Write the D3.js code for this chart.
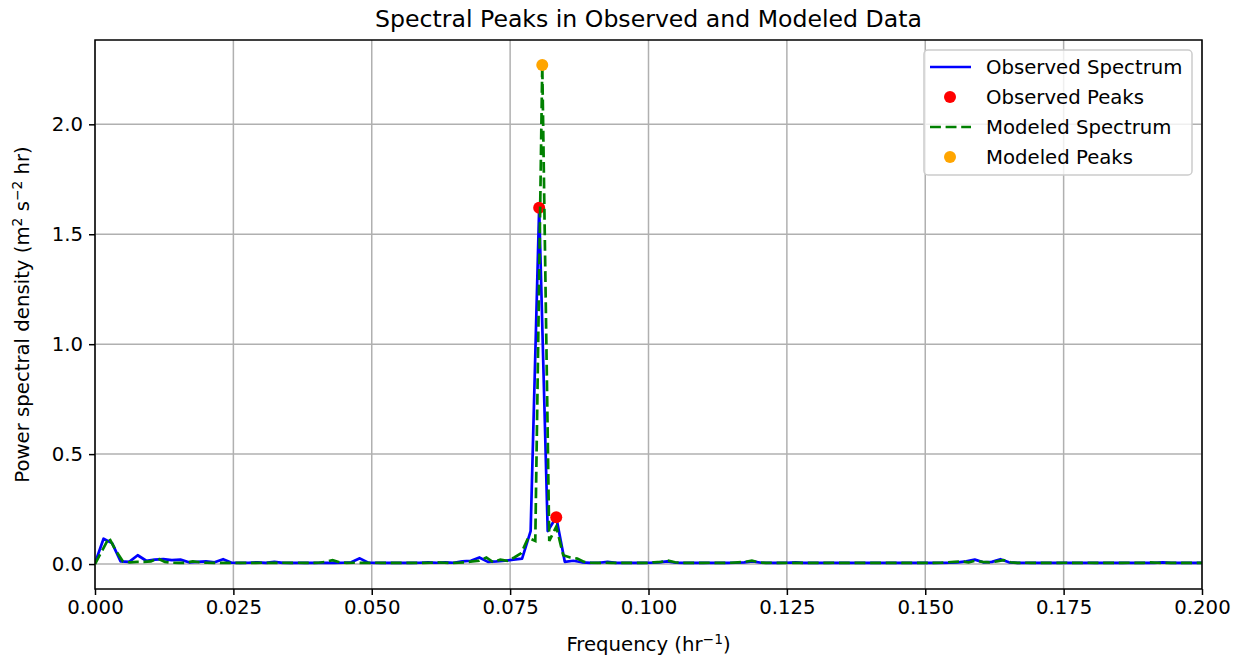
<!DOCTYPE html>
<html>
<head>
<meta charset="utf-8">
<script src="https://cdn.jsdelivr.net/npm/d3@7"></script>
<style>
	body { margin: 0; background: #fff; }
	text { font-family: "DejaVu Sans", sans-serif; fill: #000; }
</style>
</head>
<body>
<svg id="chart"></svg>
<script>
// observed spectrum, one value per frequency bin (bin width 1/648 hr^-1)
var obsStep = 1 / 648;
var observedPsd = [
	0.005, 0.115, 0.095, 0.012, 0.010, 0.040, 0.015, 0.020, 0.022, 0.018,
	0.020, 0.008, 0.010, 0.012, 0.008, 0.022, 0.006, 0.005, 0.006, 0.008,
	0.005, 0.010, 0.005, 0.006, 0.005, 0.005, 0.006, 0.005, 0.005, 0.006,
	0.008, 0.026, 0.006, 0.005, 0.006, 0.005, 0.006, 0.005, 0.006, 0.008,
	0.006, 0.008, 0.006, 0.012, 0.015, 0.030, 0.010, 0.012, 0.015, 0.020,
	0.025, 0.150, 1.620, 0.150, 0.213, 0.010, 0.015, 0.008, 0.005, 0.006,
	0.010, 0.005, 0.006, 0.005, 0.005, 0.006, 0.008, 0.012, 0.006, 0.005,
	0.006, 0.005, 0.005, 0.006, 0.005, 0.006, 0.008, 0.012, 0.006, 0.005,
	0.005, 0.006, 0.008, 0.005, 0.005, 0.006, 0.005, 0.005, 0.006, 0.005,
	0.005, 0.006, 0.005, 0.005, 0.006, 0.005, 0.005, 0.006, 0.005, 0.005,
	0.006, 0.008, 0.012, 0.020, 0.008, 0.010, 0.022, 0.008, 0.005, 0.006,
	0.005, 0.005, 0.006, 0.005, 0.005, 0.006, 0.005, 0.005, 0.006, 0.005,
	0.005, 0.006, 0.005, 0.006, 0.005, 0.008, 0.005, 0.005, 0.006, 0.005,
	0.005
];
var observedPeakBins = [52, 54];

// modeled spectrum (bin width 1/792 hr^-1)
var modStep = 1 / 792;
var modeledPsd = [
	0.000, 0.060, 0.120, 0.060, 0.012, 0.008, 0.010, 0.010, 0.012, 0.025,
	0.010, 0.006, 0.005, 0.006, 0.012, 0.008, 0.006, 0.005, 0.005, 0.006,
	0.005, 0.006, 0.005, 0.005, 0.006, 0.005, 0.005, 0.006, 0.005, 0.006,
	0.005, 0.005, 0.006, 0.010, 0.018, 0.008, 0.005, 0.006, 0.005, 0.005,
	0.006, 0.005, 0.006, 0.005, 0.005, 0.006, 0.005, 0.005, 0.006, 0.008,
	0.006, 0.005, 0.006, 0.008, 0.012, 0.015, 0.030, 0.008, 0.020, 0.015,
	0.030, 0.050, 0.120, 0.105, 2.270, 0.105, 0.170, 0.040, 0.030, 0.025,
	0.010, 0.006, 0.005, 0.006, 0.005, 0.005, 0.006, 0.005, 0.006, 0.005,
	0.008, 0.010, 0.015, 0.008, 0.005, 0.006, 0.005, 0.005, 0.006, 0.005,
	0.005, 0.006, 0.008, 0.010, 0.015, 0.008, 0.005, 0.006, 0.005, 0.005,
	0.006, 0.005, 0.005, 0.006, 0.005, 0.005, 0.006, 0.005, 0.005, 0.006,
	0.005, 0.005, 0.006, 0.005, 0.005, 0.006, 0.005, 0.005, 0.006, 0.005,
	0.005, 0.006, 0.008, 0.010, 0.012, 0.008, 0.015, 0.010, 0.008, 0.012,
	0.018, 0.008, 0.005, 0.006, 0.005, 0.005, 0.006, 0.005, 0.005, 0.006,
	0.005, 0.005, 0.006, 0.005, 0.005, 0.006, 0.005, 0.005, 0.006, 0.005,
	0.005, 0.008, 0.006, 0.005, 0.005, 0.006, 0.005, 0.005, 0.006, 0.005
];
var modeledPeakBins = [64];

var xTicks = [0, 0.025, 0.05, 0.075, 0.1, 0.125, 0.15, 0.175, 0.2];
var yTicks = [0, 0.5, 1.0, 1.5, 2.0];
var legendLabels = ["Observed Spectrum", "Observed Peaks", "Modeled Spectrum", "Modeled Peaks"];

var observed = observedPsd.map(function(v, i) { return {f: i * obsStep, p: v}; });
var modeled = modeledPsd.map(function(v, i) { return {f: i * modStep, p: v}; });

var svgWidth = 1241, svgHeight = 659;
var margin = {top: 40, right: 39, bottom: 70, left: 95};
var width = svgWidth - margin.left - margin.right;
var height = svgHeight - margin.top - margin.bottom;
var fs = 19.7;

var svg = d3.select("#chart")
	.attr("width", svgWidth)
	.attr("height", svgHeight);

var x = d3.scaleLinear().domain([0, 0.2]).range([0, width]);

var all = observedPsd.concat(modeledPsd);
var yMin = d3.min(all), yMax = d3.max(all);
var pad = (yMax - yMin) * 0.05;
var y = d3.scaleLinear().domain([yMin - pad, yMax + pad]).range([height, 0]);

var g = svg.append("g").attr("transform", "translate(" + margin.left + "," + margin.top + ")");

svg.append("defs").append("clipPath").attr("id", "clip")
	.append("rect").attr("width", width).attr("height", height);

// grid
g.append("g").selectAll("line").data(xTicks).enter().append("line")
	.attr("x1", d => x(d)).attr("x2", d => x(d))
	.attr("y1", 0).attr("y2", height)
	.attr("stroke", "#b0b0b0").attr("stroke-width", 1.5);
g.append("g").selectAll("line").data(yTicks).enter().append("line")
	.attr("x1", 0).attr("x2", width)
	.attr("y1", d => y(d)).attr("y2", d => y(d))
	.attr("stroke", "#b0b0b0").attr("stroke-width", 1.5);

var line = d3.line().x(d => x(d.f)).y(d => y(d.p));
var plot = g.append("g").attr("clip-path", "url(#clip)");

plot.append("path").datum(observed)
	.attr("d", line)
	.attr("fill", "none")
	.attr("stroke", "blue")
	.attr("stroke-width", 2.7)
	.attr("stroke-linejoin", "round");

plot.selectAll(".obsPeak").data(observedPeakBins.map(i => observed[i])).enter().append("circle")
	.attr("class", "obsPeak")
	.attr("cx", d => x(d.f)).attr("cy", d => y(d.p))
	.attr("r", 6).attr("fill", "red");

plot.append("path").datum(modeled)
	.attr("d", line)
	.attr("fill", "none")
	.attr("stroke", "green")
	.attr("stroke-width", 2.7)
	.attr("stroke-dasharray", "10.9,4.7");

plot.selectAll(".modPeak").data(modeledPeakBins.map(i => modeled[i])).enter().append("circle")
	.attr("class", "modPeak")
	.attr("cx", d => x(d.f)).attr("cy", d => y(d.p))
	.attr("r", 6).attr("fill", "orange");

// axes
var xAxis = g.append("g").attr("transform", "translate(0," + height + ")")
	.call(d3.axisBottom(x).tickValues(xTicks).tickFormat(d3.format(".3f")).tickSize(6).tickPadding(5));
var yAxis = g.append("g")
	.call(d3.axisLeft(y).tickValues(yTicks).tickFormat(d3.format(".1f")).tickSize(6).tickPadding(6));
[xAxis, yAxis].forEach(function(a) {
	a.selectAll("text").attr("font-size", fs).attr("font-family", "DejaVu Sans").attr("fill", "#000");
	a.selectAll("line").attr("stroke", "#000").attr("stroke-width", 1.5);
	a.select(".domain").remove();
});

g.append("rect").attr("width", width).attr("height", height)
	.attr("fill", "none").attr("stroke", "#000").attr("stroke-width", 1.5);

// title and labels
svg.append("text")
	.attr("x", margin.left + width / 2).attr("y", 27)
	.attr("text-anchor", "middle").attr("font-size", 23.6)
	.text("Spectral Peaks in Observed and Modeled Data");

var xl = svg.append("text")
	.attr("x", margin.left + width / 2).attr("y", 651)
	.attr("text-anchor", "middle").attr("font-size", fs);
xl.append("tspan").text("Frequency (hr");
xl.append("tspan").attr("dy", -7).attr("font-size", 13.8).text("\u22121");
xl.append("tspan").attr("dy", 7).text(")");

var yl = svg.append("text")
	.attr("transform", "translate(29," + (margin.top + height / 2) + ") rotate(-90)")
	.attr("text-anchor", "middle").attr("font-size", fs);
yl.append("tspan").text("Power spectral density (m");
yl.append("tspan").attr("dy", -7).attr("font-size", 13.8).text("2");
yl.append("tspan").attr("dy", 7).text(" s");
yl.append("tspan").attr("dy", -7).attr("font-size", 13.8).text("\u22122");
yl.append("tspan").attr("dy", 7).text(" hr)");

// legend
var legend = svg.append("g").attr("transform", "translate(924,50)");
legend.append("rect")
	.attr("width", 268).attr("height", 125).attr("rx", 4)
	.attr("fill", "#fff").attr("fill-opacity", 0.8)
	.attr("stroke", "#cccccc").attr("stroke-width", 1.5);

var items = legend.selectAll(".item").data(legendLabels).enter().append("g")
	.attr("class", "item")
	.attr("transform", (d, i) => "translate(0," + (17 + i * 30) + ")");

items.append("text").attr("x", 62).attr("y", 7).attr("font-size", fs).text(d => d);

items.filter((d, i) => i === 0).append("line")
	.attr("x1", 6).attr("x2", 47).attr("stroke", "blue").attr("stroke-width", 2.7);
items.filter((d, i) => i === 2).append("line")
	.attr("x1", 6).attr("x2", 47).attr("stroke", "green").attr("stroke-width", 2.7)
	.attr("stroke-dasharray", "10.9,4.7");
items.filter((d, i) => i === 1 || i === 3).append("circle")
	.attr("cx", 26).attr("r", 6)
	.attr("fill", (d, i) => i === 0 ? "red" : "orange");
</script>
</body>
</html>
